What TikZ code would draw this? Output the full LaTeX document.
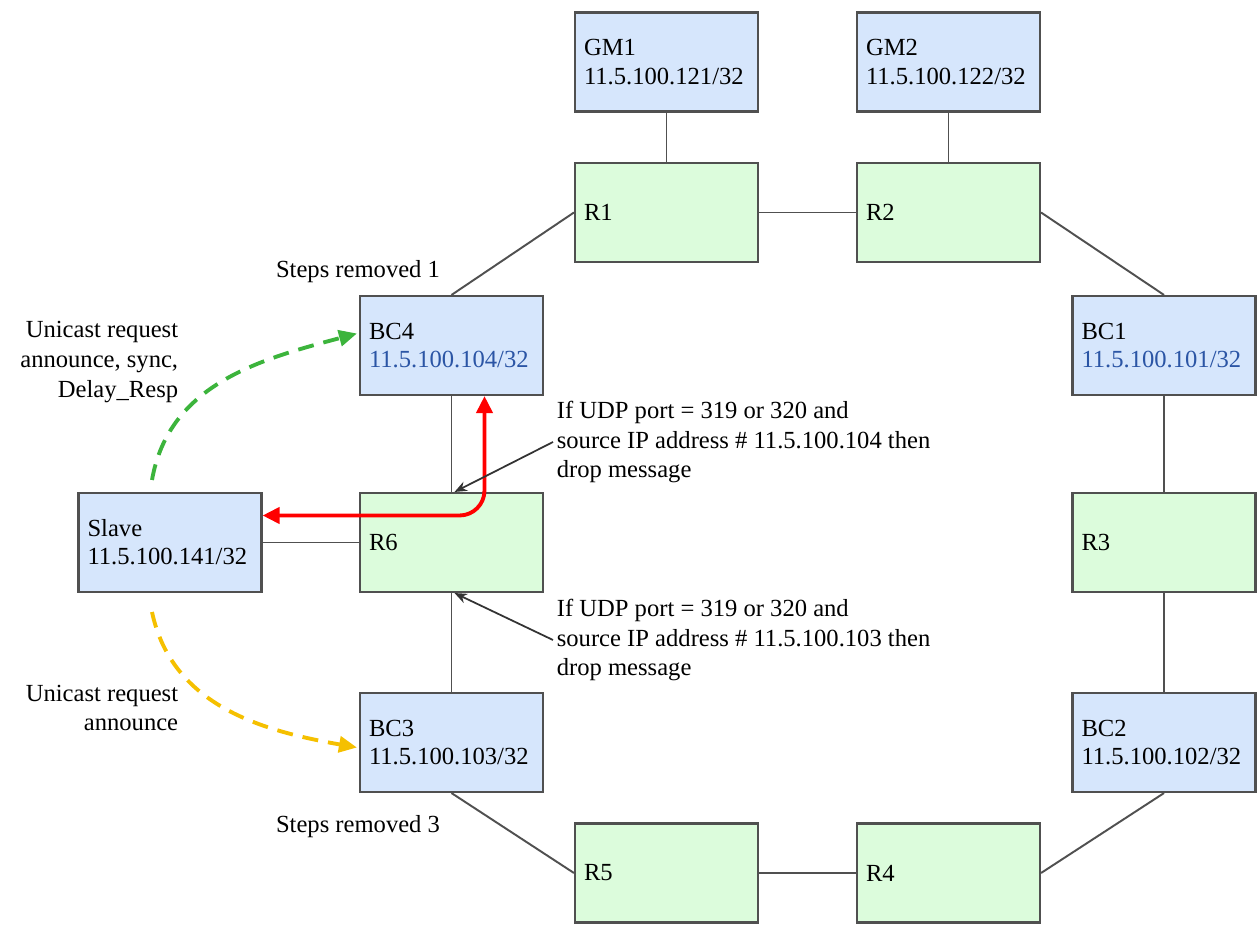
\documentclass[tikz,border=0pt]{standalone}
\usepackage{fontspec}
\setmainfont{LiberationSerif}[Extension=.ttf, UprightFont=*-Regular, BoldFont=*-Bold]
\usetikzlibrary{arrows.meta, calc, positioning}

\definecolor{boxblue}{HTML}{D6E6FC}
\definecolor{boxgreen}{HTML}{DCFCDC}
\definecolor{boxedge}{HTML}{505050}
\definecolor{ipblue}{HTML}{2B55A5}
\definecolor{reqgreen}{HTML}{3CB43C}
\definecolor{reqyellow}{HTML}{F5C000}

\begin{document}
\begin{tikzpicture}[x=0.02cm, y=-0.02cm, font=\rmfamily\fontsize{14}{16}\selectfont]
    \tikzset{
        > = Stealth,
        box/.style = {rectangle, draw=boxedge, line width=1.2pt, minimum width=3.66cm,
                      minimum height=1.98cm, text width=3.3cm, inner xsep=0.18cm, align=left},
        clockbox/.style = {box, fill=boxblue},
        routerbox/.style = {box, fill=boxgreen},
        link/.style = {draw=boxedge, line width=1.1pt},
        note/.style = {align=left, inner sep=2pt, font=\rmfamily\fontsize{14}{17}\selectfont},
        notearrow/.style = {-{Stealth[length=0.25cm, width=0.2cm]}, line width=1pt, draw=black!80},
        request/.style = {dash pattern=on 0.32cm off 0.2cm, line width=2.2pt,
                          -{Triangle[length=0.36cm, width=0.32cm]}},
        drop/.style = {draw=red, line width=2.2pt, rounded corners=0.5cm,
                       {Triangle[length=0.34cm, width=0.32cm]}-{Triangle[length=0.34cm, width=0.32cm]}}
    }
    \useasboundingbox (0,0) rectangle (1257,925);

    % grandmasters
    \node [clockbox] (gm1) at (666.5,62) {GM1\\11.5.100.121/32};
    \node [clockbox] (gm2) at (948.5,62) {GM2\\11.5.100.122/32};

    % ring
    \node [routerbox] (r1) at (666.5,212.5) {R1};
    \node [routerbox] (r2) at (948.5,212.5) {R2};
    \node [clockbox] (bc4) at (451.5,345.5) {BC4\\\textcolor{ipblue}{11.5.100.104/32}};
    \node [clockbox] (bc1) at (1164,345.5) {BC1\\\textcolor{ipblue}{11.5.100.101/32}};
    \node [routerbox] (r6) at (451.5,542.5) {R6};
    \node [routerbox] (r3) at (1164,542.5) {R3};
    \node [clockbox] (bc3) at (451.5,742.5) {BC3\\11.5.100.103/32};
    \node [clockbox] (bc2) at (1164,742.5) {BC2\\11.5.100.102/32};
    \node [routerbox] (r5) at (666.5,873) {R5};
    \node [routerbox] (r4) at (948.5,873) {R4};

    % slave
    \node [clockbox] (slave) at (170,542.5) {Slave\\11.5.100.141/32};

    % links
    \draw [link] (gm1) -- (r1);
    \draw [link] (gm2) -- (r2);
    \draw [link] (r1) -- (r2);
    \draw [link] (r1.west) -- (bc4.north);
    \draw [link] (r2.east) -- (bc1.north);
    \draw [link] (bc1) -- (r3);
    \draw [link] (r3) -- (bc2);
    \draw [link] (bc2.south) -- (r4.east);
    \draw [link] (r4) -- (r5);
    \draw [link] (r5.west) -- (bc3.south);
    \draw [link] (bc3) -- (r6);
    \draw [link] (r6) -- (bc4);
    \draw [link] (slave) -- (r6);

    % labels
    \node [note] (steps1) at (358,272) {Steps removed 1};
    \node [note] (steps3) at (358,827) {Steps removed 3};
    \node [note, align=right, anchor=east] (req1) at (182,362) {Unicast request\\announce, sync,\\Delay\_Resp};
    \node [note, align=right, anchor=east] (req2) at (182,708) {Unicast request\\announce};
    \node [note, anchor=west] (filter1) at (553,442) {If UDP port = 319 or 320 and\\source IP address \# 11.5.100.104 then\\drop message};
    \node [note, anchor=west] (filter2) at (553,640) {If UDP port = 319 or 320 and\\source IP address \# 11.5.100.103 then\\drop message};

    % unicast requests
    \coordinate (greq) at (152,480);
    \coordinate (yreq) at (152,612);
    \draw [request, color=reqgreen]
        (greq) to[out=80, in=195] ($(bc4.west)+(-2,-12)$);
    \draw [request, color=reqyellow]
        (yreq) to[out=-78, in=170] ($(bc3.west)+(-2,5)$);

    % filtered path
    \draw [drop] ($(slave.east)+(0,-27)$) -| ($(bc4.south)+(33,0)$);

    % filter rules
    \draw [notearrow] (filter1.west) -- ($(r6.north)+(3,0)$);
    \draw [notearrow] (filter2.west) -- ($(r6.south)+(3,0)$);

\end{tikzpicture}
\end{document}
